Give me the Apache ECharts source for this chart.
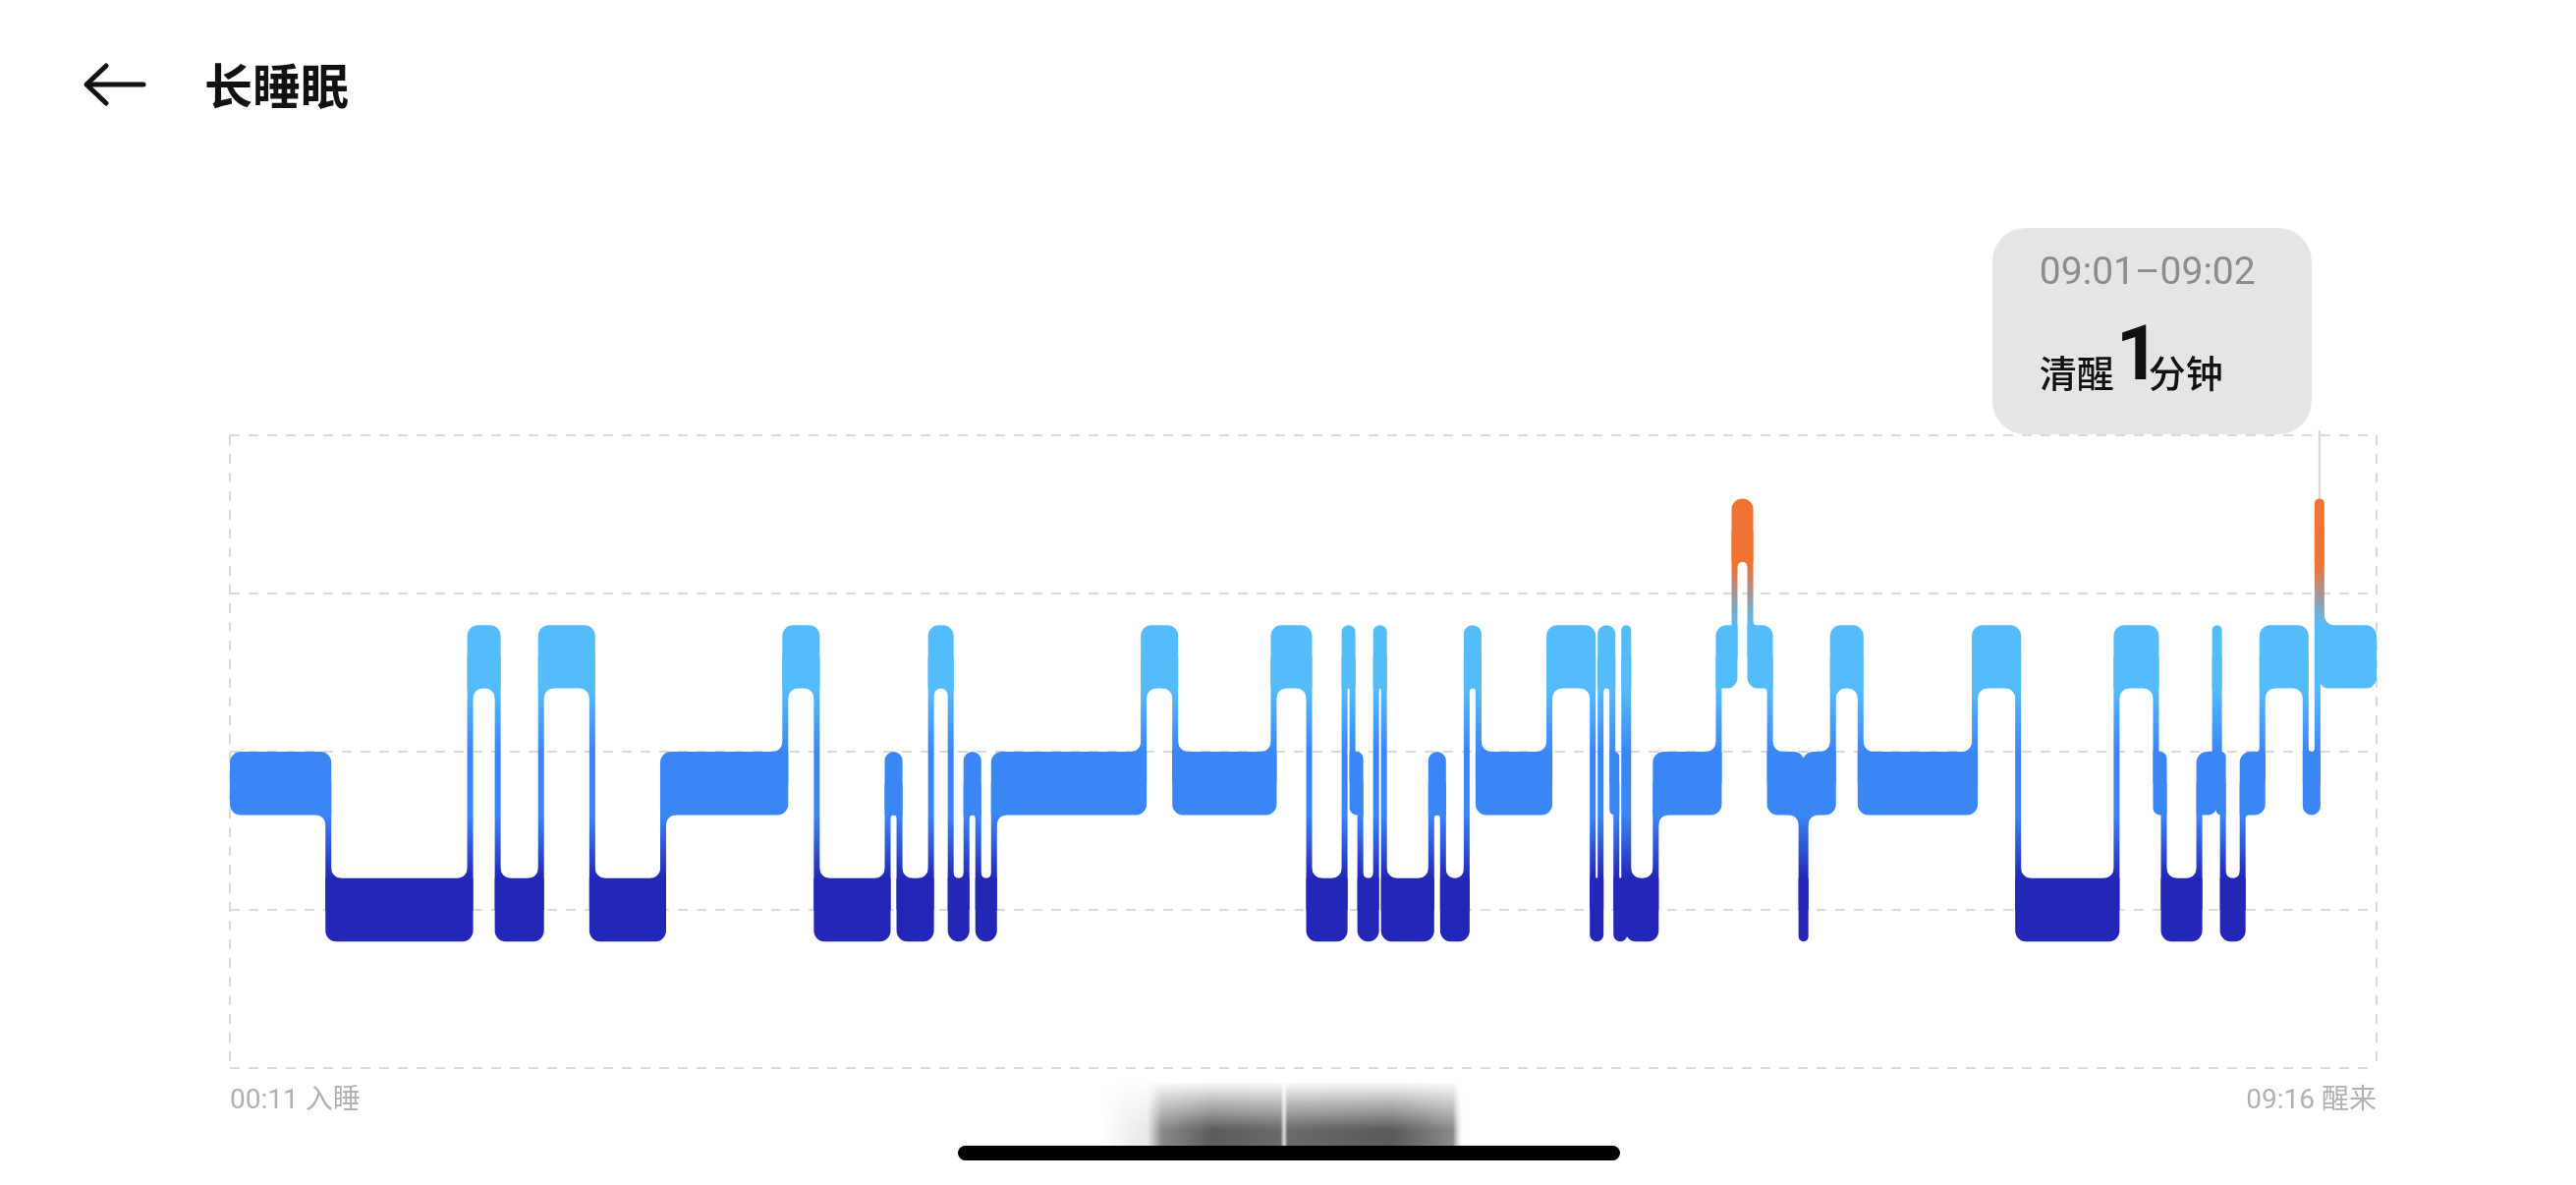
<!DOCTYPE html>
<html><head><meta charset="utf-8">
<style>html,body{margin:0;padding:0;background:#fff;}#c{width:2622px;height:1206px;}</style>
<script src="https://cdn.jsdelivr.net/npm/echarts@6/dist/echarts.min.js"></script>
</head><body><div id="c"></div><script>
// ---- data (minutes after 00:11) ----
const stageStarts = [0,25,61,68,79,92,110,141,149,167,170,178,183,187,190,194,232,240,265,274,283,285,287,291,293,305,308,314,317,335,346,348,351,352,354,355,362,378,382,386,391,399,400,407,414,443,454,479,489,491,500,504,505,506,511,516,527,530,531];
const stageNames = ['light','deep','rem','deep','rem','deep','light','rem','deep','light','deep','rem','deep','light','deep','light','rem','light','rem','deep','rem','light','deep','rem','deep','light','deep','rem','light','rem','deep','rem','light','deep','rem','deep','light','rem','awake','rem','light','deep','light','rem','light','rem','deep','rem','light','deep','light','rem','light','deep','light','rem','light','awake','rem'];
const endMinute = 545;
const xTickValues = [0, 545];
const xTickLabels = ['00:11 入睡', '09:16 醒来'];
const titleText = '长睡眠';
const tipRange = '09:01–09:02';
const tipStage = '清醒';
const tipValue = '1';
const tipUnit = '分钟';
const tipStart = 530;

// stage -> y value on the axis
const levelOf = {deep: 1.0, light: 1.8, rem: 2.6, awake: 3.4};
const stageColors = {awake:'#ef7434', rem:'#55bcfb', light:'#3b86f5', deep:'#2227b7'};

const segData = stageStarts.map((s, i) => {
  const last = i === stageStarts.length - 1;
  const end = last ? endMinute : stageStarts[i + 1];
  const lv = levelOf[stageNames[i]];
  const pv = i > 0 ? levelOf[stageNames[i - 1]] : -1;
  const nv = last ? -1 : levelOf[stageNames[i + 1]];
  return [s, end, lv, pv, nv];
});

const HALF_H = 0.2;   // half bar thickness, in axis units
const CW = 3;         // half connector width, px

function makeGradient(api, hh) {
  const yA = api.coord([0, levelOf.awake])[1];
  const yR = api.coord([0, levelOf.rem])[1];
  const yL = api.coord([0, levelOf.light])[1];
  const yD = api.coord([0, levelOf.deep])[1];
  const g0 = yA - hh, g1 = yD + hh;
  const f = y => Math.max(0, Math.min(1, (y - g0) / (g1 - g0)));
  return {
    type: 'linear', x: 0, y: g0, x2: 0, y2: g1, global: true,
    colorStops: [
      {offset: 0, color: stageColors.awake},
      {offset: f(yA + hh + 4), color: stageColors.awake},
      {offset: f(yR - hh), color: stageColors.rem},
      {offset: f(yR + hh), color: stageColors.rem},
      {offset: f(yL - hh), color: stageColors.light},
      {offset: f(yL + hh), color: stageColors.light},
      {offset: f(yD - hh), color: stageColors.deep},
      {offset: 1, color: stageColors.deep}
    ]
  };
}

function fillet(px, py, sx, sy, r, fill) {
  if (r < 1) return null;
  const pts = [[px - sx, py - sy], [px + sx * r, py - sy], [px + sx * r, py]];
  const cx = px + sx * r, cy = py + sy * r;
  const N = 8;
  for (let k = 1; k < N; k++) {
    const th = k / N * Math.PI / 2;
    pts.push([cx - sx * r * Math.sin(th), cy - sy * r * Math.cos(th)]);
  }
  pts.push([px, py + sy * r], [px - sx, py + sy * r]);
  return {type: 'polygon', shape: {points: pts}, style: {fill: fill}};
}

function renderItem(params, api) {
  const s = api.value(0), e = api.value(1), lv = api.value(2), pv = api.value(3), nv = api.value(4);
  const hh = api.size([0, HALF_H])[1];
  const grad = makeGradient(api, hh);
  const pS = api.coord([s, lv]), pE = api.coord([e, lv]);
  const yc = pS[1];
  const x0 = pv < 0 ? pS[0] : pS[0] - CW;
  const x1 = nv < 0 ? pE[0] : pE[0] + CW;
  const w = x1 - x0;
  const rr = Math.min(11, w / 2, hh);
  let tl = rr, tr = rr, br = rr, bl = rr;
  if (pv >= 0) { if (pv > lv) tl = 0; else bl = 0; }
  if (nv >= 0) { if (nv > lv) tr = 0; else br = 0; }
  const children = [];
  children.push({type: 'rect', shape: {x: x0, y: yc - hh, width: w, height: 2 * hh, r: [tl, tr, br, bl]}, style: {fill: grad}});
  if (nv >= 0) {
    const yn = api.coord([e, nv])[1];
    children.push({type: 'rect', shape: {x: pE[0] - CW, y: Math.min(yc, yn), width: 2 * CW, height: Math.abs(yn - yc)}, style: {fill: grad}});
  }
  const innerL = pv < 0 ? pS[0] : pS[0] + CW;
  const innerR = nv < 0 ? pE[0] : pE[0] - CW;
  const interior = innerR - innerL;
  const sameSide = pv >= 0 && nv >= 0 && ((pv > lv) === (nv > lv));
  const fr = sameSide ? Math.min(10, interior / 2) : Math.min(10, interior - rr);
  if (pv >= 0) {
    const up = pv > lv;
    const el = fillet(pS[0] + CW, up ? yc - hh : yc + hh, 1, up ? -1 : 1, fr, grad);
    if (el) children.push(el);
  }
  if (nv >= 0) {
    const up = nv > lv;
    const el = fillet(pE[0] - CW, up ? yc - hh : yc + hh, -1, up ? -1 : 1, fr, grad);
    if (el) children.push(el);
  }
  return {type: 'group', children: children};
}

const dashStyle = {type: [10, 9], color: '#d9d9d9', width: 2};
const chart = echarts.init(document.getElementById('c'), null, {renderer: 'canvas'});
chart.setOption({
  animation: false,
  backgroundColor: '#ffffff',
  grid: {left: 234, right: 203, top: 443, bottom: 119, containLabel: false},
  xAxis: {
    type: 'value', min: xTickValues[0], max: xTickValues[1], interval: xTickValues[1] - xTickValues[0],
    axisLine: {show: false}, axisTick: {show: false},
    splitLine: {show: true, lineStyle: dashStyle},
    axisLabel: {
      show: true, margin: 20, color: '#b0b0b0', fontSize: 28,
      fontFamily: "Roboto, 'Noto Sans CJK SC', sans-serif",
      alignMinLabel: 'left', alignMaxLabel: 'right',
      formatter: v => xTickLabels[xTickValues.indexOf(v)] || ''
    }
  },
  yAxis: {
    type: 'value', min: 0, max: 4, interval: 1,
    axisLine: {show: false}, axisTick: {show: false}, axisLabel: {show: false},
    splitLine: {show: true, lineStyle: dashStyle}
  },
  series: [{
    type: 'custom', renderItem: renderItem, data: segData, clip: false,
    encode: {x: [0, 1], y: 2}, silent: true
  }]
});

// ---- annotations ----
const idx = stageStarts.indexOf(tipStart);
const hhPx = Math.abs(chart.convertToPixel({gridIndex: 0}, [0, 0])[1] - chart.convertToPixel({gridIndex: 0}, [0, HALF_H])[1]);
const pa = chart.convertToPixel({gridIndex: 0}, [stageStarts[idx], levelOf.awake]);
const pb = chart.convertToPixel({gridIndex: 0}, [stageStarts[idx + 1], levelOf.awake]);
const lineX = (pa[0] + pb[0]) / 2;
const barTop = pa[1] - hhPx;
const boxW = 325, boxH = 210, boxTop = 232;
const boxX = lineX - 8 - boxW;
const cjk = "'Noto Sans CJK SC', sans-serif";

chart.setOption({
  graphic: [
    // back arrow
    {type: 'polyline', shape: {points: [[89, 86], [146, 86]]}, style: {stroke: '#111', lineWidth: 5, lineCap: 'round', fill: null}},
    {type: 'polyline', shape: {points: [[108, 67], [88, 86], [108, 105]]}, style: {stroke: '#111', lineWidth: 5, lineCap: 'round', lineJoin: 'round', fill: null}},
    {type: 'text', x: 208, y: 87, style: {text: titleText, fill: '#111', font: "bold 49px 'Noto Sans CJK SC', sans-serif", verticalAlign: 'middle'}},
    // tooltip
    {type: 'line', shape: {x1: lineX, y1: boxTop + boxH - 4, x2: lineX, y2: barTop + 2}, style: {stroke: '#d6d6d6', lineWidth: 2}},
    {type: 'rect', shape: {x: boxX, y: boxTop, width: boxW, height: boxH, r: 34}, style: {fill: '#e5e5e5'}},
    {type: 'text', x: boxX + 48, y: boxTop + 47, style: {text: tipRange, fill: '#8c8c8c', font: "39px Roboto, sans-serif", verticalAlign: 'middle'}},
    {type: 'text', x: boxX + 48, y: boxTop + 148, style: {text: tipStage, fill: '#111', font: "500 38px " + cjk, verticalAlign: 'middle'}},
    {type: 'text', x: boxX + 126, y: boxTop + 134, style: {text: tipValue, fill: '#111', font: "bold 78px Roboto, sans-serif", verticalAlign: 'middle'}},
    {type: 'text', x: boxX + 159, y: boxTop + 148, style: {text: tipUnit, fill: '#111', font: "500 38px " + cjk, verticalAlign: 'middle'}},
    // blurred screenshot artifact + home indicator
    {type: 'rect', shape: {x: 1124, y: 1102, width: 366, height: 78},
      style: {fill: {type: 'linear', x: 0, y: 0, x2: 1, y2: 0, colorStops: [
        {offset: 0, color: 'rgba(240,240,240,0)'}, {offset: 0.06, color: '#f0f0f0'}, {offset: 0.12, color: '#e8e8e8'},
        {offset: 0.16, color: '#8a8a8a'}, {offset: 0.3, color: '#5c5c5c'}, {offset: 0.49, color: '#6a6a6a'},
        {offset: 0.5, color: '#dcdcdc'}, {offset: 0.51, color: '#6a6a6a'}, {offset: 0.8, color: '#5a5a5a'},
        {offset: 0.97, color: '#8a8a8a'}, {offset: 1, color: 'rgba(255,255,255,0)'}]}}},
    {type: 'rect', shape: {x: 1120, y: 1100, width: 372, height: 50},
      style: {fill: {type: 'linear', x: 0, y: 0, x2: 0, y2: 1, colorStops: [
        {offset: 0, color: 'rgba(255,255,255,1)'}, {offset: 1, color: 'rgba(255,255,255,0)'}]}}},
    {type: 'rect', shape: {x: 975, y: 1166, width: 674, height: 15, r: 7.5}, style: {fill: '#000'}}
  ]
});
</script></body></html>
